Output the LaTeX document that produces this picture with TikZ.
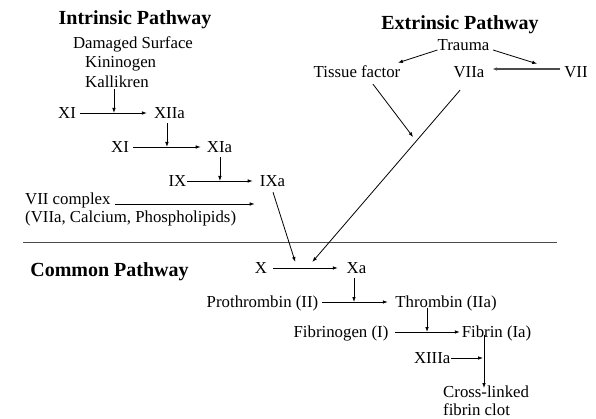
\documentclass[tikz,border=0pt]{standalone}
\usepackage{fontspec}
\setmainfont{Liberation Serif}
\usetikzlibrary{arrows.meta,calc}
\begin{document}
\begin{tikzpicture}[x=1pt,y=-1pt,
  lbl/.style={inner sep=0pt, text height=11pt, text depth=0pt, font=\fontsize{16.8}{18}\selectfont},
  hdr/.style={inner sep=0pt, text height=13.5pt, text depth=0pt, font=\fontsize{20}{24}\selectfont\bfseries},
  arr/.style={line width=0.8pt, -{Latex[length=5pt,width=3.6pt]}},
  plain/.style={line width=0.8pt},
  divider/.style={line width=0.9pt, black!70}]
\useasboundingbox (0,0) rectangle (596,419);

% headers
\node[hdr] (intr) at (135,18) {Intrinsic Pathway};
\node[hdr] (extr) at (460,23) {Extrinsic Pathway};
\node[hdr] (comm) at (109.5,270) {Common Pathway};

% intrinsic
\node[lbl] (ds) at (133,43) {Damaged Surface};
\node[lbl, anchor=west] (kin) at (85,62) {Kininogen};
\node[lbl, anchor=west] (kal) at (85,82) {Kallikren};
\node[lbl] (XIa1) at (67,113) {XI};
\node[lbl] (XIIa) at (169.5,113) {XIIa};
\node[lbl] (XIb) at (120,147) {XI};
\node[lbl] (XIa) at (219.5,147) {XIa};
\node[lbl] (IX) at (177.5,181) {IX};
\node[lbl] (IXa) at (272.5,181) {IXa};
\node[lbl, anchor=west] (vii1) at (25,199) {VII complex};
\node[lbl, anchor=west] (vii2) at (25,217) {(VIIa, Calcium, Phospholipids)};

% extrinsic
\node[lbl] (trauma) at (463.5,45) {Trauma};
\node[lbl] (tf) at (357,72) {Tissue factor};
\node[lbl] (VIIa) at (469,72) {VIIa};
\node[lbl] (VII) at (576,72) {VII};

% common
\node[lbl] (X) at (261,268) {X};
\node[lbl] (Xa) at (356.5,268) {Xa};
\node[lbl] (pro) at (262.5,302) {Prothrombin (II)};
\node[lbl] (thr) at (446,302) {Thrombin (IIa)};
\node[lbl] (fgen) at (341,332) {Fibrinogen (I)};
\node[lbl] (fib) at (496.5,332) {Fibrin (Ia)};
\node[lbl] (XIIIa) at (432.2,358) {XIIIa};
\node[inner sep=0pt, anchor=north west, align=left, font=\fontsize{16.8}{18}\selectfont] (cross) at (443,386) {Cross-linked\\fibrin clot};

% divider
\coordinate (dl) at (23,242);
\coordinate (dr) at (557,242);
\draw[divider] (dl) -- (dr);

% helper coordinates on arrows
\coordinate (m1) at ($(XIa1.east)!0.487!(XIIa.west)$);
\coordinate (m2) at ($(XIb.east)!0.488!(XIa.west)$);
\coordinate (m3) at ($(IX.east)!0.456!(IXa.west)$);
\coordinate (m4) at ($(pro.east)!0.463!(thr.west)$);
\coordinate (m5) at ($(fgen.east)!0.527!(fib.west)$);
\coordinate (x1) at ($(X.east)+(28,-6)$);
\coordinate (x2) at ($(X.east)+(45,-6)$);
\coordinate (v0) at ($(VIIa.south)+(-9,12.5)$);
\coordinate (tfe) at ($($(v0)!0.273!(x2)$)+(-6.5,0)$);
\coordinate (fl) at ($(fib.south)+(-12.5,-2.5)$);

% intrinsic arrows
\draw[arr, shorten <=4pt, shorten >=7pt] (XIa1) -- (XIIa);
\draw[arr, shorten <=1.5pt] (kal.south -| m1) -- (m1);
\draw[arr, shorten <=4pt, shorten >=6pt] (XIb) -- (XIa);
\draw[arr, shorten <=4.5pt] (XIIa.south -| m2) -- (m2);
\draw[arr, shorten <=0.5pt, shorten >=7pt] (IX) -- (IXa);
\draw[arr, shorten <=4.5pt] (XIa.south -| m3) -- (m3);
\draw[arr] ($(vii1.east)+(4.6,5)$) -- ($(vii1.east -| IXa.west)+(-5,5)$);
\draw[arr] ($(IXa.south)+(0.5,5.5)$) -- (x1);

% extrinsic arrows
\draw[arr] ($(trauma.west)+(0,5)$) -- ($(tf.north east)+(-2.6,-3.5)$);
\draw[arr] ($(trauma.east)+(3.5,5)$) -- ($(VII.north west)+(-27,-2.5)$);
\draw[arr, line width=1.2pt, black!70] ($(VII.west)+(-4,-3)$) -- ($(VIIa.east)+(7.6,-3)$);
\draw[arr] ($(tf.south)+(16,6.5)$) -- (tfe);
\draw[arr] (v0) -- (x2);

% common arrows
\draw[arr, shorten <=6pt, shorten >=8.7pt] (X) -- (Xa);
\draw[arr, shorten <=4.5pt] (Xa.south -| m4) -- (m4);
\draw[arr, shorten <=4pt, shorten >=7.4pt] (pro) -- (thr);
\draw[arr] (thr.south -| m5) -- (m5);
\draw[arr, shorten <=6.6pt, shorten >=1.7pt] (fgen) -- (fib);
\draw[arr, shorten >=-2pt] (fl) -- (fl |- cross.north);
\draw[arr, shorten >=1pt] (XIIIa) -- (XIIIa -| fl);
\end{tikzpicture}
\end{document}
